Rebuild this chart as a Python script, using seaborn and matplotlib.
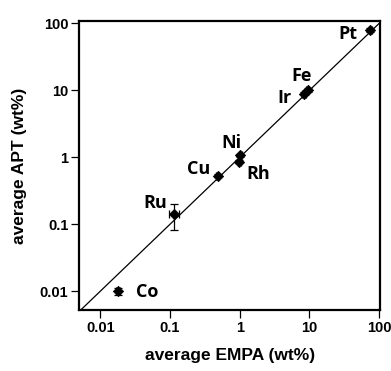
import matplotlib
matplotlib.use('Agg')
import matplotlib.pyplot as plt
import seaborn as sns
import pandas as pd

# Data
elements = ['Co', 'Ru', 'Cu', 'Ni', 'Rh', 'Ir', 'Fe', 'Pt']
empa = [0.018, 0.115, 0.48, 1.02, 0.98, 8.4, 9.5, 75.0]
apt = [0.010, 0.14, 0.53, 1.07, 0.86, 8.9, 10.2, 80.0]
empa_err = [0.001, 0.02, 0.03, 0.05, 0.05, 0.5, 0.5, 4.0]
apt_err_low = [0.0012, 0.057, 0.03, 0.06, 0.05, 0.5, 0.6, 5.0]
apt_err_high = [0.0012, 0.06, 0.03, 0.06, 0.05, 0.5, 0.6, 5.0]
# label offsets in pixels (dx, dy) from each point
label_dx = [29, -19, -19, -9, 19, -20, -6, -23]
label_dy = [-1, 11, 7, 12, -12, -4, 14, -4]

ticks = [0.01, 0.1, 1, 10, 100]
tick_labels = ['0.01', '0.1', '1', '10', '100']

df = pd.DataFrame({'element': elements, 'EMPA': empa, 'APT': apt})

sns.set_style('white')
plt.rcParams['font.family'] = ['Liberation Sans', 'DejaVu Sans']
plt.rcParams['font.weight'] = 'bold'
plt.rcParams['text.color'] = 'black'
plt.rcParams['axes.labelcolor'] = 'black'
plt.rcParams['xtick.color'] = 'black'
plt.rcParams['ytick.color'] = 'black'

fig = plt.figure(figsize=(3.91, 3.71), dpi=100)
ax = fig.add_axes([0.203, 0.164, 0.769, 0.779])

ax.set_xscale('log')
ax.set_yscale('log')
ax.set_xlim(0.005, 103)
ax.set_ylim(0.0052, 108)

# 1:1 line
ax.axline((1, 1), (10, 10), color='black', lw=0.9, zorder=1)

# error bars
ax.errorbar(df['EMPA'], df['APT'], xerr=empa_err, yerr=[apt_err_low, apt_err_high],
            fmt='none', ecolor='black', elinewidth=0.9, capsize=3, capthick=0.9, zorder=2)

sns.scatterplot(data=df, x='EMPA', y='APT', marker='D', s=28, color='black',
                edgecolor='black', linewidth=0.5, ax=ax, zorder=3)

for el, x, y, dx, dy in zip(elements, empa, apt, label_dx, label_dy):
    ax.annotate(el, (x, y), xytext=(dx, dy), textcoords='offset pixels',
                ha='center', va='center', fontsize=13, fontweight='bold',
                color='black', family=['Open Sans', 'DejaVu Sans'])

ax.set_xticks(ticks)
ax.set_xticklabels(tick_labels)
ax.set_yticks(ticks)
ax.set_yticklabels(tick_labels)
ax.minorticks_off()

ax.tick_params(axis='both', direction='out', length=6, width=0.9, color='black',
               labelcolor='black', labelsize=10.5, pad=2, bottom=True, left=True)
for lab in ax.get_xticklabels() + ax.get_yticklabels():
    lab.set_fontweight('bold')

for sp in ax.spines.values():
    sp.set_linewidth(1.6)
    sp.set_color('black')

ax.set_xlabel('average EMPA (wt%)', fontsize=12.5, fontweight='bold', labelpad=9, color='black')
ax.set_ylabel('average APT (wt%)', fontsize=12.5, fontweight='bold', labelpad=9, color='black')

fig.savefig('out.png', dpi=100)
